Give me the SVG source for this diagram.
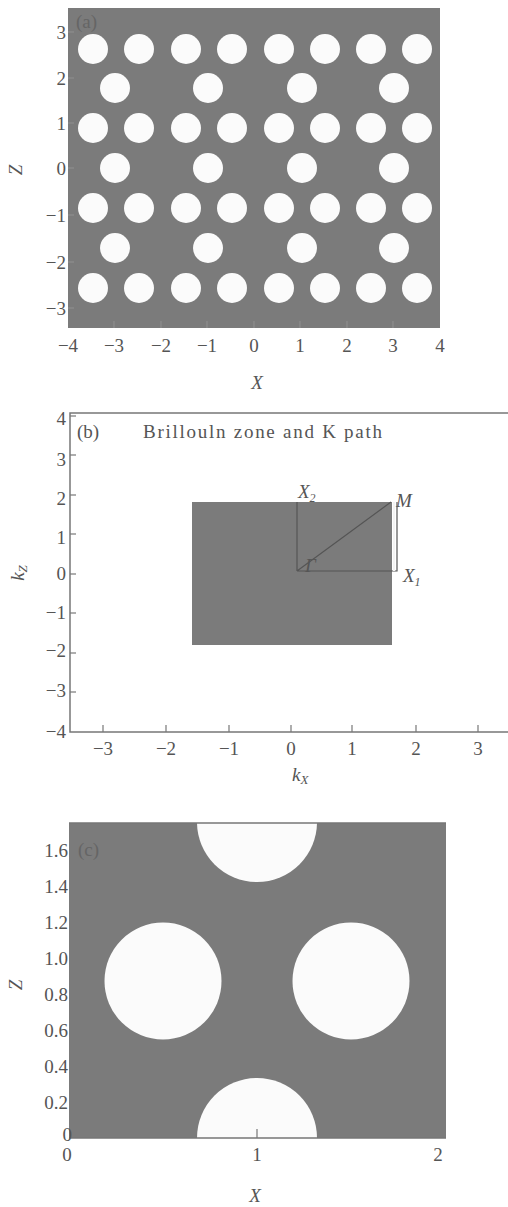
<svg xmlns="http://www.w3.org/2000/svg" width="508" height="1207" viewBox="0 0 508 1207">
<style>
text{font-family:'Liberation Serif','Times New Roman','DejaVu Serif',serif;fill:#555;font-size:19px}
.it{font-style:italic}
.r{text-anchor:end}
.m{text-anchor:middle}
.grey{fill:#7b7b7b}
.hole{fill:#fbfbfb}
.ax{stroke:#777;stroke-width:1.5;fill:none}
.tk{stroke:#777;stroke-width:1.2}
.tka{stroke:#8e8e8e;stroke-width:1.2}
.path{stroke:#555;stroke-width:1.2;fill:none}
.lbl{fill:#656565}
</style>
<defs>
<circle id="h" r="15" class="hole"/>
<clipPath id="clipc"><rect x="69" y="823" width="377" height="315"/></clipPath>
</defs>

<g id="panel-a">
<rect x="68" y="8" width="372" height="320" class="grey"/>
<g id="holes-a">
<use href="#h" x="93" y="49"/><use href="#h" x="139" y="49"/><use href="#h" x="186" y="49"/><use href="#h" x="232" y="49"/><use href="#h" x="279" y="49"/><use href="#h" x="325" y="49"/><use href="#h" x="371" y="49"/><use href="#h" x="417" y="49"/>
<use href="#h" x="115" y="88"/><use href="#h" x="208" y="88"/><use href="#h" x="302" y="88"/><use href="#h" x="394" y="88"/>
<use href="#h" x="93" y="128"/><use href="#h" x="139" y="128"/><use href="#h" x="186" y="128"/><use href="#h" x="232" y="128"/><use href="#h" x="279" y="128"/><use href="#h" x="325" y="128"/><use href="#h" x="371" y="128"/><use href="#h" x="417" y="128"/>
<use href="#h" x="115" y="168"/><use href="#h" x="208" y="168"/><use href="#h" x="302" y="168"/><use href="#h" x="394" y="168"/>
<use href="#h" x="93" y="208"/><use href="#h" x="139" y="208"/><use href="#h" x="186" y="208"/><use href="#h" x="232" y="208"/><use href="#h" x="279" y="208"/><use href="#h" x="325" y="208"/><use href="#h" x="371" y="208"/><use href="#h" x="417" y="208"/>
<use href="#h" x="115" y="248"/><use href="#h" x="208" y="248"/><use href="#h" x="302" y="248"/><use href="#h" x="394" y="248"/>
<use href="#h" x="93" y="288"/><use href="#h" x="139" y="288"/><use href="#h" x="186" y="288"/><use href="#h" x="232" y="288"/><use href="#h" x="279" y="288"/><use href="#h" x="325" y="288"/><use href="#h" x="371" y="288"/><use href="#h" x="417" y="288"/>
</g>
<g class="tka">
<line x1="114" y1="328" x2="114" y2="321"/><line x1="161" y1="328" x2="161" y2="321"/><line x1="207" y1="328" x2="207" y2="321"/><line x1="254" y1="328" x2="254" y2="321"/><line x1="300" y1="328" x2="300" y2="321"/><line x1="347" y1="328" x2="347" y2="321"/><line x1="393" y1="328" x2="393" y2="321"/>
<line x1="68" y1="32" x2="74" y2="32"/><line x1="68" y1="78" x2="74" y2="78"/><line x1="68" y1="123" x2="74" y2="123"/><line x1="68" y1="168" x2="74" y2="168"/><line x1="68" y1="215" x2="74" y2="215"/><line x1="68" y1="262" x2="74" y2="262"/><line x1="68" y1="308" x2="74" y2="308"/>
</g>
<text x="76" y="28" class="lbl" font-size="17">(a)</text>
<text x="66" y="39" class="r">3</text>
<text x="66" y="85" class="r">2</text>
<text x="66" y="130" class="r">1</text>
<text x="66" y="175" class="r">0</text>
<text x="66" y="222" class="r">−1</text>
<text x="66" y="269" class="r">−2</text>
<text x="66" y="315" class="r">−3</text>
<text x="68" y="352" class="m">−4</text>
<text x="114" y="352" class="m">−3</text>
<text x="161" y="352" class="m">−2</text>
<text x="207" y="352" class="m">−1</text>
<text x="254" y="352" class="m">0</text>
<text x="300" y="352" class="m">1</text>
<text x="347" y="352" class="m">2</text>
<text x="393" y="352" class="m">3</text>
<text x="440" y="352" class="m">4</text>
<text x="257" y="389" class="m it">X</text>
<text x="0" y="0" class="m it" transform="translate(22,170) rotate(-90)">Z</text>
</g>

<g id="panel-b">
<rect x="192" y="502" width="200" height="143" class="grey"/>
<path class="ax" d="M508,413 H70 V732 H508"/>
<g class="tk">
<line x1="70" y1="416" x2="76" y2="416"/><line x1="70" y1="455" x2="76" y2="455"/><line x1="70" y1="495" x2="76" y2="495"/><line x1="70" y1="534" x2="76" y2="534"/><line x1="70" y1="574" x2="76" y2="574"/><line x1="70" y1="613" x2="76" y2="613"/><line x1="70" y1="653" x2="76" y2="653"/><line x1="70" y1="692" x2="76" y2="692"/>
<line x1="103" y1="732" x2="103" y2="725"/><line x1="166" y1="732" x2="166" y2="725"/><line x1="229" y1="732" x2="229" y2="725"/><line x1="291" y1="732" x2="291" y2="725"/><line x1="352" y1="732" x2="352" y2="725"/><line x1="416" y1="732" x2="416" y2="725"/><line x1="478" y1="732" x2="478" y2="725"/>
</g>
<g id="kpath">
<path class="path" d="M297,571 H397 V502 M297,571 V502 M297,571 L391,502"/>
<line x1="394" y1="502" x2="394" y2="571" stroke="#f4f4f4" stroke-width="2"/>
</g>
<text x="77" y="438">(b)</text>
<text x="143" y="438" textLength="239" lengthAdjust="spacing">Brillouln zone and K path</text>
<text x="298" y="498" class="it" font-size="17">X<tspan font-size="12" dy="4">2</tspan></text>
<text x="396" y="507" class="it" font-size="17">M</text>
<text x="403" y="582" class="it" font-size="17">X<tspan font-size="12" dy="4">1</tspan></text>
<text x="305" y="572" class="it" font-size="13" fill="#4e4e4e">Γ</text>
<text x="66" y="425" class="r">4</text>
<text x="66" y="466" class="r">3</text>
<text x="66" y="505" class="r">2</text>
<text x="66" y="544" class="r">1</text>
<text x="66" y="580" class="r">0</text>
<text x="66" y="619" class="r">−1</text>
<text x="66" y="657" class="r">−2</text>
<text x="66" y="697" class="r">−3</text>
<text x="66" y="738" class="r">−4</text>
<text x="103" y="755" class="m">−3</text>
<text x="166" y="755" class="m">−2</text>
<text x="229" y="755" class="m">−1</text>
<text x="291" y="755" class="m">0</text>
<text x="352" y="755" class="m">1</text>
<text x="416" y="755" class="m">2</text>
<text x="478" y="755" class="m">3</text>
<text x="292" y="781" class="it">k<tspan font-size="13" dy="3">X</tspan></text>
<text x="0" y="0" class="m it" transform="translate(24,573) rotate(-90)">k<tspan font-size="13" dy="3">Z</tspan></text>
</g>

<g id="panel-c">
<rect x="69" y="823" width="377" height="315" class="grey"/>
<g clip-path="url(#clipc)">
<circle cx="257" cy="822" r="60" class="hole"/>
<circle cx="257" cy="1138" r="60" class="hole"/>
<circle cx="163" cy="981" r="58.5" class="hole"/>
<circle cx="351" cy="981" r="58.5" class="hole"/>
</g>
<path class="ax" d="M69,823 H446 M69,1138 H446"/>
<line x1="257" y1="1138" x2="257" y2="1129" class="tk"/>
<text x="78" y="856" class="lbl" font-size="17">(c)</text>
<text x="68" y="857" class="r">1.6</text>
<text x="68" y="893" class="r">1.4</text>
<text x="68" y="929" class="r">1.2</text>
<text x="68" y="965" class="r">1.0</text>
<text x="68" y="1001" class="r">0.8</text>
<text x="68" y="1037" class="r">0.6</text>
<text x="68" y="1073" class="r">0.4</text>
<text x="68" y="1109" class="r">0.2</text>
<text x="72" y="1141" class="r">0</text>
<text x="67" y="1161" class="m">0</text>
<text x="257" y="1161" class="m">1</text>
<text x="438" y="1161" class="m">2</text>
<text x="255" y="1202" class="m it">X</text>
<text x="0" y="0" class="m it" transform="translate(22,985) rotate(-90)">Z</text>
</g>
</svg>
